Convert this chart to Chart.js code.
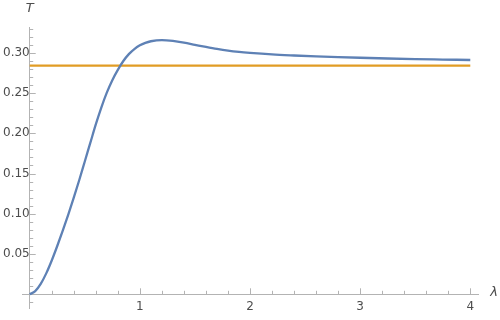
<!DOCTYPE html>
<html>
<head>
<meta charset="utf-8">
<script src="https://cdn.jsdelivr.net/npm/chart.js@4/dist/chart.umd.min.js"></script>
<style>
  html, body { margin: 0; padding: 0; background: #fff; }
  #wrap { width: 500px; height: 320px; }
</style>
</head>
<body>
<div id="wrap"><canvas id="c" width="500" height="320"></canvas></div>
<script>
// ---- data ----
const lambdaValues = [0, 0.05, 0.1, 0.15, 0.2, 0.25, 0.3, 0.35, 0.4, 0.45, 0.5, 0.55, 0.6, 0.65, 0.7, 0.75, 0.8, 0.85, 0.9, 0.95, 1.0, 1.05, 1.1, 1.2, 1.3, 1.4, 1.5, 1.6, 1.7, 1.8, 1.9, 2.0, 2.2, 2.4, 2.6, 2.8, 3.0, 3.25, 3.5, 3.75, 4.0];
const curveT = [0, 0.004, 0.013, 0.026, 0.042, 0.060, 0.079, 0.099, 0.120, 0.142, 0.165, 0.188, 0.211, 0.232, 0.2505, 0.2660, 0.2788, 0.2898, 0.2983, 0.3046, 0.3092, 0.3123, 0.3143, 0.3157, 0.3147, 0.3126, 0.3099, 0.3072, 0.3047, 0.3026, 0.3010, 0.2998, 0.2979, 0.2966, 0.2955, 0.2946, 0.2938, 0.2929, 0.2922, 0.2916, 0.2910];
const constantT = 0.284;
const constLambda = [0, 4];
const xTickLabels = [1, 2, 3, 4];
const yTickLabels = [0.05, 0.10, 0.15, 0.20, 0.25, 0.30];
const xMinorStep = 0.2;
const yMinorStep = 0.01;
const xTitle = 'λ';
const yTitle = 'T';

const curveData = lambdaValues.map((x, i) => ({ x: x, y: curveT[i] }));
const constData = constLambda.map(x => ({ x: x, y: constantT }));

const axisColor = '#b3b3b3';
const labelColor = '#4d4d4d';

const tickPlugin = {
  id: 'inwardTicks',
  afterDraw(chart) {
    const ctx = chart.ctx;
    const xs = chart.scales.x, ys = chart.scales.y;
    const x0 = xs.getPixelForValue(0), y0 = ys.getPixelForValue(0);
    ctx.save();
    ctx.strokeStyle = axisColor;
    ctx.lineWidth = 1;
    const nx = Math.round((xs.max) / xMinorStep);
    for (let i = 1; i <= nx; i++) {
      const v = i * xMinorStep;
      const major = Math.abs(v - Math.round(v)) < 1e-6;
      const px = Math.round(xs.getPixelForValue(v)) + 0.5;
      ctx.beginPath();
      ctx.moveTo(px, y0);
      ctx.lineTo(px, y0 - (major ? 6 : 3.5));
      ctx.stroke();
    }
    const nyMin = Math.ceil(ys.min / yMinorStep);
    const nyMax = Math.floor(ys.max / yMinorStep + 1e-6);
    for (let i = nyMin; i <= nyMax; i++) {
      if (i === 0) continue;
      const major = i % 5 === 0;
      const py = Math.round(ys.getPixelForValue(i * yMinorStep)) + 0.5;
      ctx.beginPath();
      ctx.moveTo(x0, py);
      ctx.lineTo(x0 + (major ? 6 : 3.5), py);
      ctx.stroke();
    }
    ctx.fillStyle = labelColor;
    ctx.font = 'italic 13px "DejaVu Sans", sans-serif';
    ctx.textAlign = 'center';
    ctx.textBaseline = 'middle';
    ctx.fillText(yTitle, x0, 9);
    ctx.fillText(xTitle, 494, y0 - 2);
    ctx.restore();
  }
};

new Chart(document.getElementById('c'), {
  type: 'line',
  data: {
    datasets: [
      { data: curveData, borderColor: '#5E81B5', borderWidth: 2.3, pointRadius: 0, cubicInterpolationMode: 'monotone', fill: false },
      { data: constData, borderColor: '#E19C24', borderWidth: 2.3, pointRadius: 0, fill: false }
    ]
  },
  options: {
    responsive: false,
    animation: false,
    events: [],
    layout: { padding: { left: 22, right: 22, top: 27, bottom: 10 } },
    plugins: { legend: { display: false }, tooltip: { enabled: false } },
    scales: {
      x: {
        type: 'linear',
        position: { y: 0 },
        min: -0.07, max: 4.07,
        afterFit(s) { s.height = 0; },
        afterBuildTicks(s) { s.ticks = xTickLabels.map(v => ({ value: v })); },
        grid: { display: false, drawTicks: false },
        border: { display: true, color: axisColor, width: 1 },
        ticks: { color: labelColor, padding: 5, font: { size: 12, family: '"DejaVu Sans", sans-serif' }, maxRotation: 0, callback: v => String(v) }
      },
      y: {
        type: 'linear',
        position: { x: 0 },
        min: -0.018, max: 0.332,
        afterFit(s) { s.width = 0; },
        afterBuildTicks(s) { s.ticks = yTickLabels.map(v => ({ value: v })); },
        grid: { display: false, drawTicks: false },
        border: { display: true, color: axisColor, width: 1 },
        ticks: { color: labelColor, padding: 4, font: { size: 12, family: '"DejaVu Sans", sans-serif' }, callback: v => v.toFixed(2) }
      }
    }
  },
  plugins: [tickPlugin]
});
</script>
</body>
</html>
